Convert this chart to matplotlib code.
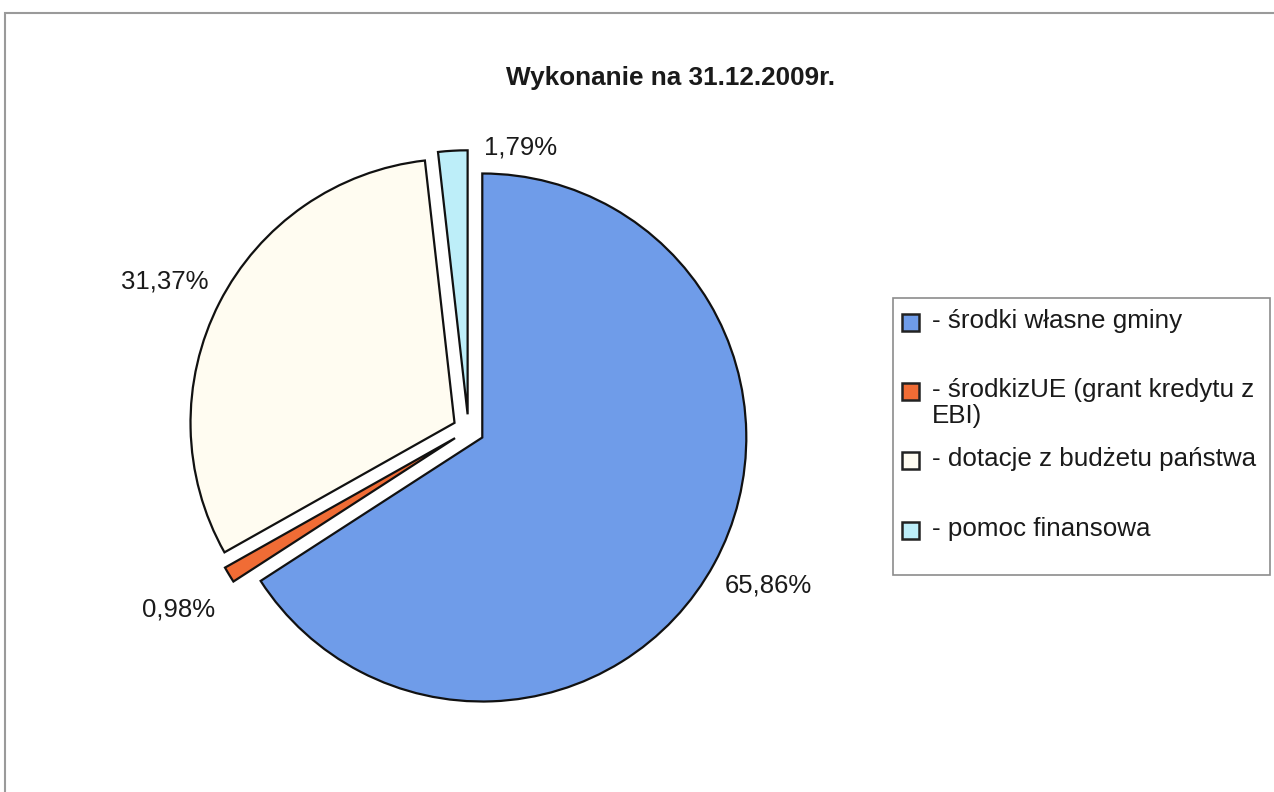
import numpy as np
import matplotlib.pyplot as plt
from matplotlib.patches import Rectangle

plt.rcParams['font.family'] = ['Liberation Sans', 'DejaVu Sans']

# data
shares = [65.86, 0.98, 31.37, 1.79]
pct_labels = ['65,86%', '0,98%', '31,37%', '1,79%']
legend_labels = ['- środki własne gminy',
                 '- środkizUE (grant kredytu z\nEBI)',
                 '- dotacje z budżetu państwa',
                 '- pomoc finansowa']
colors = ['#6f9ce9', '#f06c35', '#fffcf1', '#bdeef9']
title = 'Wykonanie na 31.12.2009r.'

W, H = 1274, 792
fig = plt.figure(figsize=(W / 100, H / 100), dpi=100)
ax = fig.add_axes([0, 0, 1, 1])

def fy(y):
    # layout given in pixels from the top of the picture
    return H - y

wedges, _ = ax.pie(shares, colors=colors, startangle=90, counterclock=False,
                   center=(468.5, fy(430)), radius=264, explode=[15.7] * 4,
                   wedgeprops=dict(edgecolor='#111111', linewidth=1.6),
                   frame=True)
ax.set_xlim(0, W)
ax.set_ylim(0, H)
ax.set_aspect('equal')
ax.axis('off')

# outer chart frame (only top and left edges are inside the picture)
ax.add_patch(Rectangle((5, -20), W + 40, fy(13) + 20, fill=False,
                       edgecolor='#9a9a9a', lw=1.5, clip_on=False))

# percentage labels placed just outside each slice
label_style = [('left', 'top', -8, 0),
               ('right', 'top', 4, -12),
               ('right', 'bottom', 8, 0),
               ('left', 'center', 32, -18)]
for w, txt, (ha, va, dx, dy) in zip(wedges, pct_labels, label_style):
    th = np.radians((w.theta1 + w.theta2) / 2)
    cx, cy = w.center
    x = cx + 1.08 * w.r * np.cos(th) + dx
    y = cy + 1.08 * w.r * np.sin(th) + dy
    ax.text(x, y, txt, ha=ha, va=va, fontsize=18.5, color='#1a1a1a')

ax.text(671, fy(78), title, ha='center', va='center', fontsize=18.8,
        fontweight='bold', color='#1a1a1a')

# legend drawn by hand to follow the original spacing
ax.add_patch(Rectangle((893, fy(575)), 377, 277, fill=False,
                       edgecolor='#8c8c8c', lw=1.2))
row_y = [322, 391, 460, 530]
for y, col, txt in zip(row_y, colors, legend_labels):
    ax.add_patch(Rectangle((902, fy(y) - 8.5), 17, 17, facecolor=col,
                           edgecolor='#222222', lw=1.8))
    ax.text(932, fy(y) + 13, txt, ha='left', va='top', fontsize=18.7,
            color='#1a1a1a', linespacing=1.1)

fig.savefig('out.png', dpi=100, facecolor='white')
